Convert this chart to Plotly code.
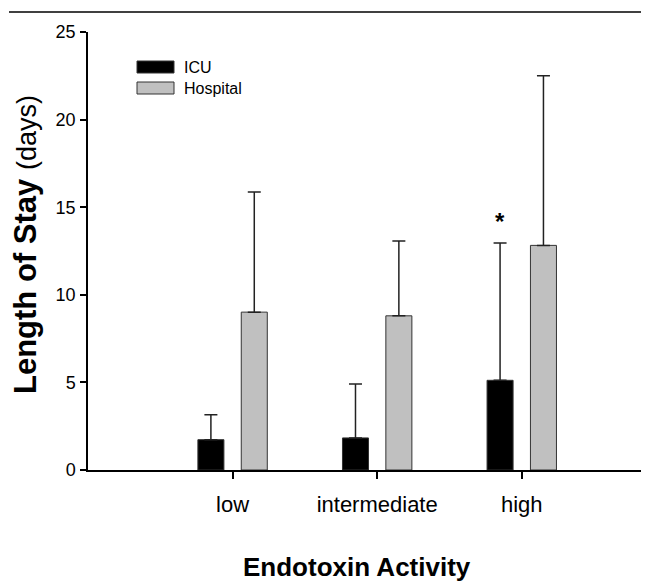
import plotly.graph_objects as go

categories = ["low", "intermediate", "high"]
icu_mean = [1.73, 1.83, 5.12]
icu_sd = [1.43, 3.08, 7.83]
hosp_mean = [9.01, 8.80, 12.82]
hosp_sd = [6.86, 4.27, 9.68]
y_ticks = [0, 5, 10, 15, 20, 25]
significant = [False, False, True]

FONT = "Liberation Sans, Arial, sans-serif"
xpos = [1, 2, 3]

fig = go.Figure()
fig.add_trace(go.Bar(
    x=xpos, y=icu_mean, name="ICU", width=0.18, offset=-0.24,
    marker=dict(color="#000000", line=dict(color="#333333", width=1)),
    error_y=dict(type="data", symmetric=False, array=icu_sd,
                 arrayminus=[0] * len(icu_sd), color="#222222",
                 thickness=1.5, width=6.5),
    showlegend=False,
))
fig.add_trace(go.Bar(
    x=xpos, y=hosp_mean, name="Hospital", width=0.18, offset=0.06,
    marker=dict(color="#c0c0c0", line=dict(color="#333333", width=1)),
    error_y=dict(type="data", symmetric=False, array=hosp_sd,
                 arrayminus=[0] * len(hosp_sd), color="#222222",
                 thickness=1.5, width=6.5),
    showlegend=False,
))

annotations = []
for i, sig in enumerate(significant):
    if sig:
        annotations.append(dict(
            x=xpos[i] - 0.15, y=icu_mean[i] + icu_sd[i], xref="x", yref="y",
            text="<b>*</b>", showarrow=False, yanchor="bottom", yshift=6,
            font=dict(family=FONT, size=24, color="#000")))

# page has an 8px body margin, so the figure is drawn 8px smaller and shifted
L = 88
W = 561
H = 438
def px(xp):
    return (xp - L) / W
def py(yp):
    return (470 - yp) / H

shapes = [
    dict(type="rect", xref="paper", yref="paper", x0=px(137), x1=px(174),
         y0=py(73), y1=py(61), fillcolor="#000000", line=dict(color="#333333", width=1)),
    dict(type="rect", xref="paper", yref="paper", x0=px(137), x1=px(174),
         y0=py(94), y1=py(82), fillcolor="#c0c0c0", line=dict(color="#333333", width=1)),
    dict(type="line", xref="paper", yref="paper", x0=px(9), x1=px(660),
         y0=py(12), y1=py(12), line=dict(color="#000000", width=1.5)),
]
for name, yc in (("ICU", 67), ("Hospital", 88)):
    annotations.append(dict(x=px(182), y=py(yc), xref="paper", yref="paper",
                            text=name, showarrow=False, xanchor="left", yanchor="middle",
                            font=dict(family=FONT, size=16, color="#000")))

annotations.append(dict(
    x=px(26), y=py(245), xref="paper", yref="paper", textangle=-90,
    text="<b>Length of Stay</b> <span style='font-size:27px'>(days)</span>",
    showarrow=False, xanchor="center", yanchor="middle",
    font=dict(family=FONT, size=31, color="#000")))
annotations.append(dict(
    x=px(357), y=py(567), xref="paper", yref="paper",
    text="<b>Endotoxin Activity</b>", showarrow=False,
    xanchor="center", yanchor="middle",
    font=dict(family=FONT, size=26, color="#000")))

fig.update_layout(
    width=641, height=576,
    margin=dict(l=80, r=0, t=24, b=114),
    paper_bgcolor="white", plot_bgcolor="white",
    font=dict(family=FONT, color="#000"),
    xaxis=dict(range=[0, 3.88], tickvals=xpos, ticktext=categories,
               showgrid=False, zeroline=False, showline=True, linecolor="#000",
               linewidth=1.5, ticks="outside", ticklen=7, tickwidth=1.5,
               tickcolor="#000", ticklabelstandoff=7,
               tickfont=dict(family=FONT, size=22, color="#000")),
    yaxis=dict(range=[0, 25], tickvals=y_ticks, showgrid=False, zeroline=False,
               showline=True, linecolor="#000", linewidth=1.5, ticks="outside",
               ticklen=6, tickwidth=1.5, tickcolor="#000", ticklabelstandoff=1,
               tickfont=dict(family=FONT, size=18, color="#000")),
    shapes=shapes,
    annotations=annotations,
)

fig.write_html("out.html")
